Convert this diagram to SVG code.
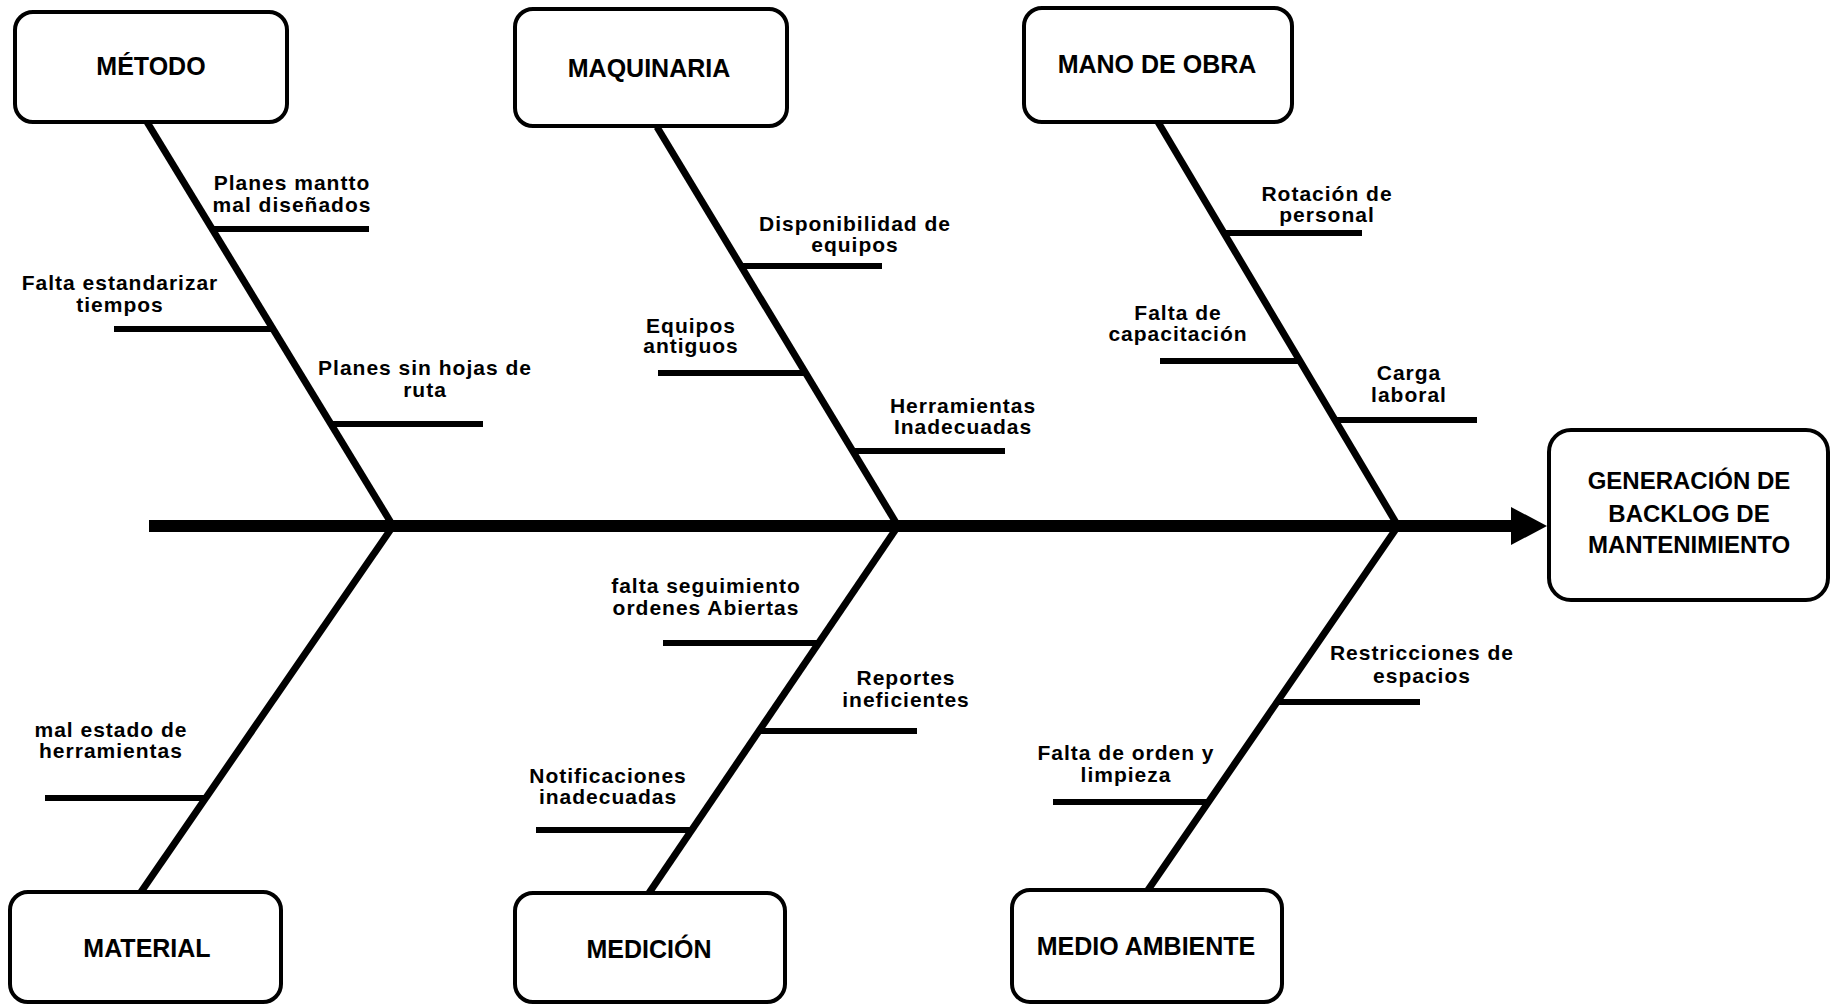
<svg xmlns="http://www.w3.org/2000/svg" width="1831" height="1004" viewBox="0 0 1831 1004">
<defs>
<style>
.box{fill:#fff;stroke:#000;stroke-width:4}
.t{font-family:"Liberation Sans",Arial,sans-serif;font-weight:bold;font-size:25px;text-anchor:middle;fill:#000}
.g{font-size:24px}
.l{font-family:"Liberation Sans",Arial,sans-serif;font-weight:bold;font-size:21px;letter-spacing:1px;text-anchor:middle;fill:#000}
.spine{stroke:#000;stroke-width:7;fill:none}
.sub{stroke:#000;stroke-width:6;fill:none}
.main{stroke:#000;stroke-width:12;fill:none}
</style>
<marker id="ah" markerUnits="userSpaceOnUse" markerWidth="36" markerHeight="38" refX="0" refY="19" orient="auto">
<path d="M0,0 L36,19 L0,38 Z" fill="#000"/>
</marker>
</defs>
<rect width="1831" height="1004" fill="#fff"/>
<g id="connectors">
<line class="main" x1="149" y1="526" x2="1511" y2="526" marker-end="url(#ah)"/>
<line class="spine" x1="147" y1="122" x2="393" y2="526"/>
<line class="spine" x1="657" y1="127" x2="898" y2="526"/>
<line class="spine" x1="1158" y1="122" x2="1398" y2="526"/>
<line class="spine" x1="393" y1="526" x2="141" y2="892"/>
<line class="spine" x1="898" y1="526" x2="649" y2="893"/>
<line class="spine" x1="1398" y1="526" x2="1148" y2="890"/>
<line class="sub" x1="212" y1="229" x2="369" y2="229"/>
<line class="sub" x1="114" y1="329" x2="273" y2="329"/>
<line class="sub" x1="331" y1="424" x2="483" y2="424"/>
<line class="sub" x1="741" y1="266" x2="882" y2="266"/>
<line class="sub" x1="658" y1="373" x2="806" y2="373"/>
<line class="sub" x1="853" y1="451" x2="1005" y2="451"/>
<line class="sub" x1="1224" y1="233" x2="1362" y2="233"/>
<line class="sub" x1="1160" y1="361" x2="1300" y2="361"/>
<line class="sub" x1="1335" y1="420" x2="1477" y2="420"/>
<line class="sub" x1="45" y1="798" x2="206" y2="798"/>
<line class="sub" x1="663" y1="643" x2="819" y2="643"/>
<line class="sub" x1="759" y1="731" x2="917" y2="731"/>
<line class="sub" x1="536" y1="830" x2="692" y2="830"/>
<line class="sub" x1="1277" y1="702" x2="1420" y2="702"/>
<line class="sub" x1="1053" y1="802" x2="1208" y2="802"/>
</g>
<g id="labels">
<text class="l" x="292" y="190">Planes mantto</text>
<text class="l" x="292" y="212">mal diseñados</text>
<text class="l" x="120" y="290">Falta estandarizar</text>
<text class="l" x="120" y="312">tiempos</text>
<text class="l" x="425" y="375">Planes sin hojas de</text>
<text class="l" x="425" y="397">ruta</text>
<text class="l" x="855" y="231">Disponibilidad de</text>
<text class="l" x="855" y="252">equipos</text>
<text class="l" x="691" y="333">Equipos</text>
<text class="l" x="691" y="353">antiguos</text>
<text class="l" x="963" y="413">Herramientas</text>
<text class="l" x="963" y="434">Inadecuadas</text>
<text class="l" x="1327" y="201">Rotación de</text>
<text class="l" x="1327" y="222">personal</text>
<text class="l" x="1178" y="320">Falta de</text>
<text class="l" x="1178" y="341">capacitación</text>
<text class="l" x="1409" y="380">Carga</text>
<text class="l" x="1409" y="402">laboral</text>
<text class="l" x="111" y="737">mal estado de</text>
<text class="l" x="111" y="758">herramientas</text>
<text class="l" x="706" y="593">falta seguimiento</text>
<text class="l" x="706" y="615">ordenes Abiertas</text>
<text class="l" x="906" y="685">Reportes</text>
<text class="l" x="906" y="707">ineficientes</text>
<text class="l" x="608" y="783">Notificaciones</text>
<text class="l" x="608" y="804">inadecuadas</text>
<text class="l" x="1422" y="660">Restricciones de</text>
<text class="l" x="1422" y="683">espacios</text>
<text class="l" x="1126" y="760">Falta de orden y</text>
<text class="l" x="1126" y="782">limpieza</text>
</g>
<g id="metodo">
<rect class="box" x="15" y="12" width="272" height="110" rx="18"/>
<text class="t" x="151" y="75">MÉTODO</text>
</g>
<g id="maquinaria">
<rect class="box" x="515" y="9" width="272" height="117" rx="18"/>
<text class="t" x="649" y="77">MAQUINARIA</text>
</g>
<g id="mano-de-obra">
<rect class="box" x="1024" y="8" width="268" height="114" rx="18"/>
<text class="t" x="1157" y="73">MANO DE OBRA</text>
</g>
<g id="material">
<rect class="box" x="10" y="892" width="271" height="110" rx="18"/>
<text class="t" x="147" y="957">MATERIAL</text>
</g>
<g id="medicion">
<rect class="box" x="515" y="893" width="270" height="109" rx="18"/>
<text class="t" x="649" y="958">MEDICIÓN</text>
</g>
<g id="medio-ambiente">
<rect class="box" x="1012" y="890" width="270" height="112" rx="18"/>
<text class="t" x="1146" y="955">MEDIO AMBIENTE</text>
</g>
<g id="efecto">
<rect class="box" x="1549" y="430" width="279" height="170" rx="22"/>
<text class="t g" x="1689" y="489">GENERACIÓN DE</text>
<text class="t g" x="1689" y="522">BACKLOG DE</text>
<text class="t g" x="1689" y="553">MANTENIMIENTO</text>
</g>
</svg>
